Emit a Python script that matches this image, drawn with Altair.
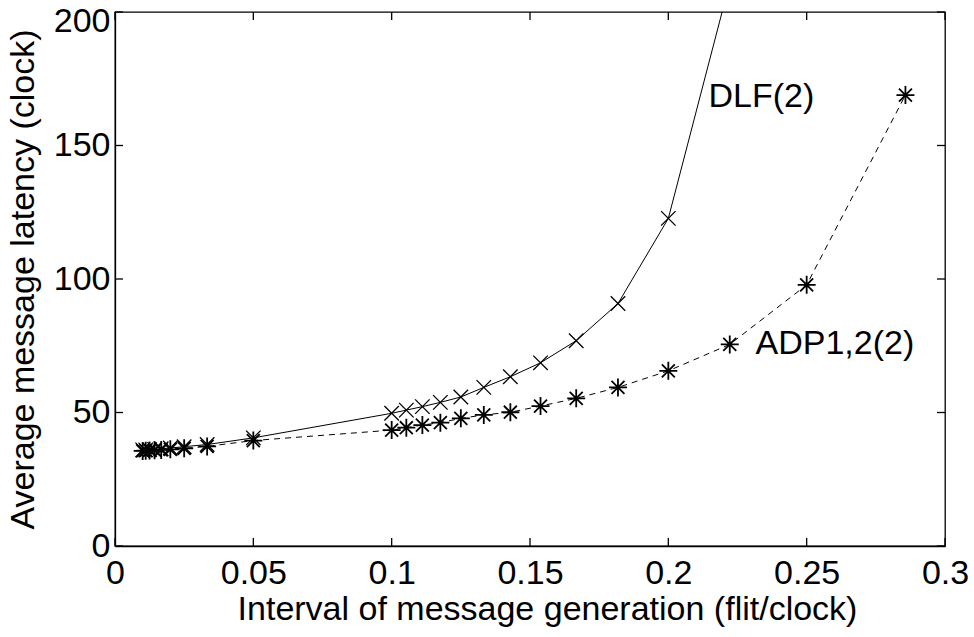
import altair as alt
import pandas as pd

# ---- data ----
x_vals = [0.01, 0.0111, 0.0125, 0.0143, 0.0167, 0.02, 0.025, 0.0333, 0.05,
          0.1, 0.1053, 0.1111, 0.1176, 0.125, 0.1333, 0.1429, 0.1538, 0.1667,
          0.1818, 0.2, 0.2222, 0.25, 0.2857]
dlf_x = x_vals[:21]
dlf_y = [36.0, 36.0, 36.1, 36.2, 36.4, 36.7, 37.2, 38.0, 40.5,
         49.7, 50.9, 52.2, 53.8, 55.8, 59.4, 63.4, 68.6, 76.9,
         90.8, 122.7, 211.0]
adp_x = x_vals
adp_y = [35.6, 35.7, 35.8, 35.9, 36.0, 36.2, 36.6, 37.3, 39.5,
         43.4, 44.3, 45.3, 46.2, 47.8, 49.1, 50.1, 52.4, 55.3,
         59.4, 65.6, 75.5, 97.8, 168.9]

x_ticks = [0, 0.05, 0.1, 0.15, 0.2, 0.25, 0.3]
y_ticks = [0, 50, 100, 150, 200]

label_text = ["DLF(2)", "ADP1,2(2)"]
label_x = [0.2145, 0.2315]
label_y = [168.0, 75.5]

W, H = 830, 534
FONT = "Liberation Sans"
FS = 34

dlf = pd.DataFrame({"x": dlf_x, "y": dlf_y})
adp = pd.DataFrame({"x": adp_x, "y": adp_y})
labels = pd.DataFrame({"x": label_x, "y": label_y, "t": label_text})
xt = pd.DataFrame({"v": x_ticks})
yt = pd.DataFrame({"v": y_ticks})

xs = alt.Scale(domain=[0, 0.3], nice=False, zero=False)
ys = alt.Scale(domain=[0, 200], nice=False, zero=False)

X = alt.X("x:Q", scale=xs,
          axis=alt.Axis(values=x_ticks, format="~g", ticks=False, grid=False,
                        domainColor="black", domainWidth=1.3,
                        labelFont=FONT, labelFontSize=FS, labelColor="black",
                        labelPadding=10, labelFlush=False,
                        title="Interval of message generation (flit/clock)",
                        titleFont=FONT, titleFontSize=FS, titleFontWeight="normal",
                        titleColor="black", titlePadding=2,
                        titleX=432, titleAlign="center"))
Y = alt.Y("y:Q", scale=ys,
          axis=alt.Axis(values=y_ticks, ticks=False, grid=False,
                        domainColor="black", domainWidth=1.3,
                        labelFont=FONT, labelFontSize=FS, labelColor="black",
                        labelPadding=5, labelFlush=False,
                        labelOffset={"condition": {"test": "datum.value == 200", "value": 9},
                                     "value": 0},
                        title="Average message latency (clock)",
                        titleFont=FONT, titleFontSize=FS, titleFontWeight="normal",
                        titleColor="black", titlePadding=13))

cross_shape = "M-1,-1L1,1M-1,1L1,-1"
star_shape = "M0,-1L0,1M-1,0L1,0M-0.72,-0.72L0.72,0.72M-0.72,0.72L0.72,-0.72"

dlf_line = alt.Chart(dlf).mark_line(color="black", strokeWidth=1, clip=True).encode(x=X, y=Y)
dlf_pts = alt.Chart(dlf).mark_point(shape=cross_shape, size=210, filled=False,
                                    color="black", strokeWidth=1.3, opacity=1,
                                    clip=True).encode(x="x:Q", y="y:Q")
adp_line = alt.Chart(adp).mark_line(color="black", strokeWidth=1, strokeDash=[6, 5],
                                    clip=True).encode(x="x:Q", y="y:Q")
adp_pts = alt.Chart(adp).mark_point(shape=star_shape, size=324, filled=False,
                                    color="black", strokeWidth=1.8, opacity=1,
                                    clip=True).encode(x="x:Q", y="y:Q")
txt = alt.Chart(labels).mark_text(align="left", baseline="middle", font=FONT,
                                  fontSize=FS, color="black").encode(
    x="x:Q", y="y:Q", text="t:N")

TL = 8
tick_style = dict(color="black", strokeWidth=1.3)
xb = alt.Chart(xt).mark_rule(**tick_style).encode(x="v:Q", y=alt.value(H), y2=alt.value(H - TL))
xtop = alt.Chart(xt).mark_rule(**tick_style).encode(x="v:Q", y=alt.value(0), y2=alt.value(TL))
yl = alt.Chart(yt).mark_rule(**tick_style).encode(y="v:Q", x=alt.value(0), x2=alt.value(TL))
yr = alt.Chart(yt).mark_rule(**tick_style).encode(y="v:Q", x=alt.value(W), x2=alt.value(W - TL))

chart = alt.layer(dlf_line, adp_line, dlf_pts, adp_pts, txt, xb, xtop, yl, yr).properties(
    width=W, height=H,
    autosize=alt.AutoSizeParams(type="none"),
    padding={"left": 115, "top": 12, "right": 29, "bottom": 91},
    background="white",
).configure_view(stroke="black", strokeWidth=1.3)

chart.save("out.html", embed_options={"renderer": "svg", "actions": False})
